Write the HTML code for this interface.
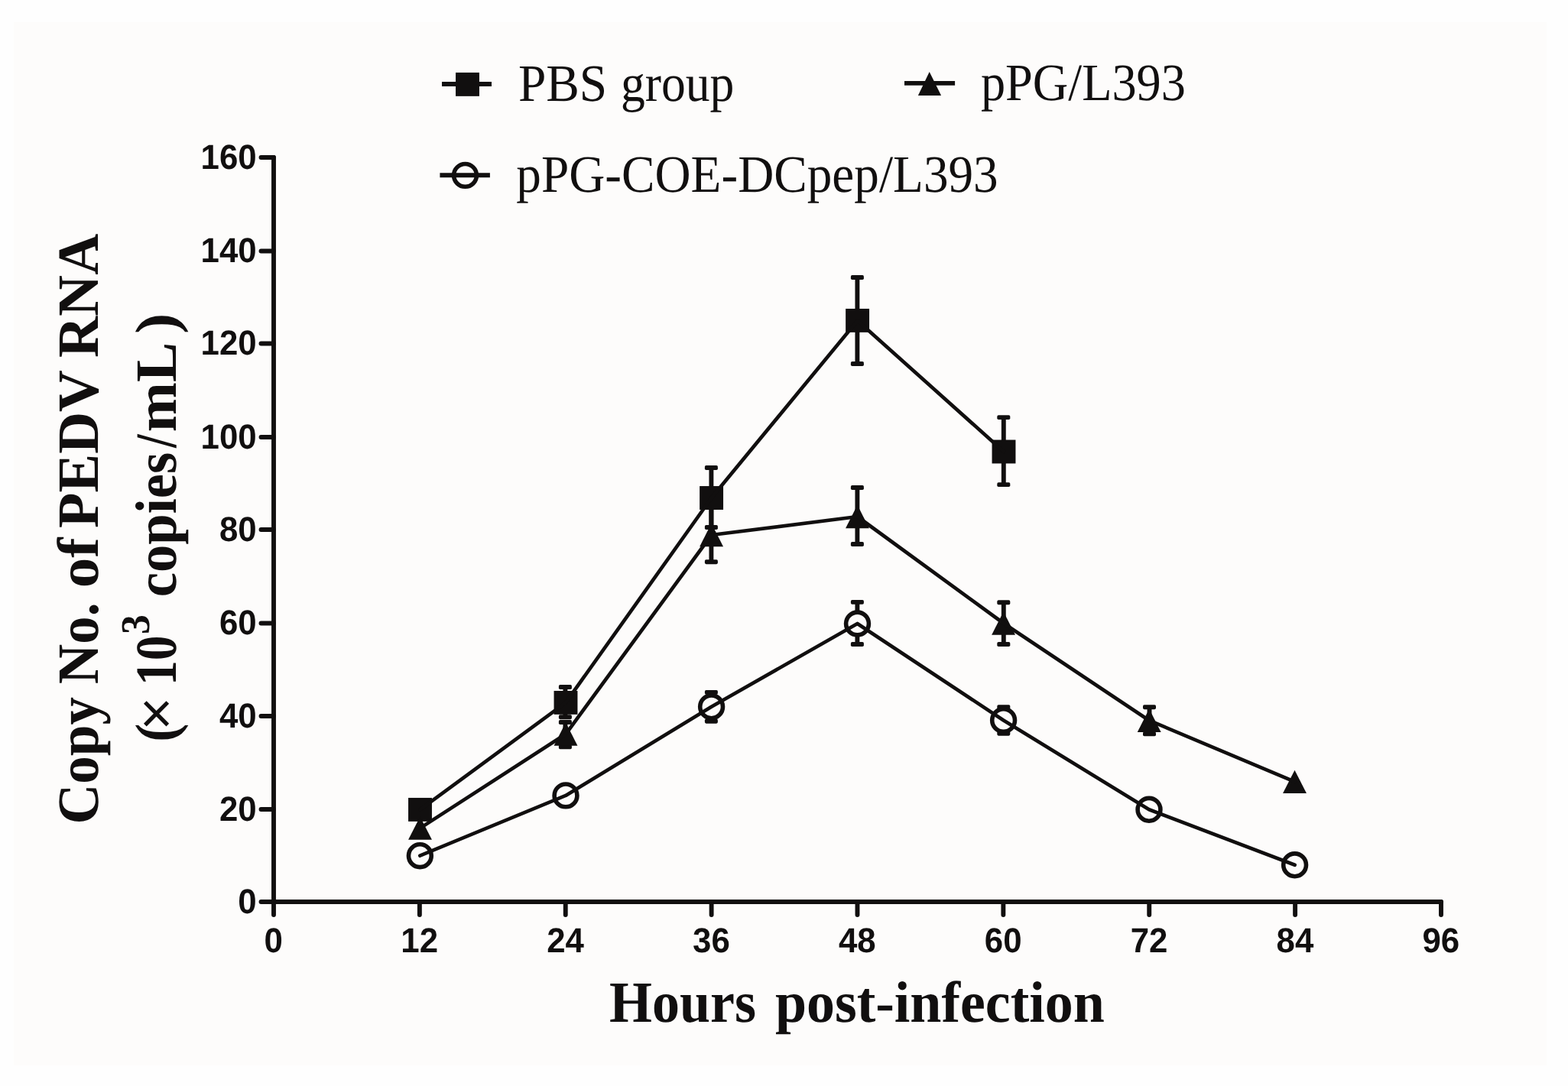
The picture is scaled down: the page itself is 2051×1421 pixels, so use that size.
<!DOCTYPE html>
<html lang="en"><head><meta charset="utf-8"><title>Copy No. of PEDV RNA</title>
<style>
html,body{margin:0;padding:0;background:#fefefe;}
body{width:2051px;height:1421px;overflow:hidden;}
svg{display:block;}
text{fill:#110f0f;white-space:pre;text-rendering:geometricPrecision;}
.sr{font-family:"Liberation Serif","Times New Roman",serif;font-weight:normal;}
.sb{font-family:"Liberation Serif","Times New Roman",serif;font-weight:bold;}
.nb{font-family:"Liberation Sans",Arial,sans-serif;font-weight:bold;}
</style></head><body>
<svg width="2051" height="1421" viewBox="0 0 2051 1421">
<rect x="0" y="0" width="2051" height="1421" fill="#fefefe"/>
<rect x="18" y="29" width="2005" height="1365" fill="#fdfcfb"/>
<g id="axes" fill="none" stroke="#110f0f" stroke-width="5.90" stroke-linecap="round" stroke-linejoin="round">
<path d="M358.00 206.00 V1180.00 H1885.00"/>
<path d="M341.50 1180.00 H358.00"/>
<path d="M341.50 1059.00 H358.00"/>
<path d="M341.50 937.00 H358.00"/>
<path d="M341.50 815.50 H358.00"/>
<path d="M341.50 693.00 H358.00"/>
<path d="M341.50 572.00 H358.00"/>
<path d="M341.50 449.50 H358.00"/>
<path d="M341.50 328.50 H358.00"/>
<path d="M341.50 206.00 H358.00"/>
<path d="M358.00 1180.00 V1197.00"/>
<path d="M548.87 1180.00 V1197.00"/>
<path d="M739.74 1180.00 V1197.00"/>
<path d="M930.62 1180.00 V1197.00"/>
<path d="M1121.49 1180.00 V1197.00"/>
<path d="M1312.36 1180.00 V1197.00"/>
<path d="M1503.23 1180.00 V1197.00"/>
<path d="M1694.10 1180.00 V1197.00"/>
<path d="M1884.98 1180.00 V1197.00"/>
</g>
<g id="errorbars" fill="#110f0f" stroke="none">
<path d="M739.40 899.00 V938.20" fill="none" stroke="#110f0f" stroke-width="5.90"/><rect x="730.90" y="896.05" width="17.00" height="5.90" rx="1.8"/><rect x="730.90" y="935.25" width="17.00" height="5.90" rx="1.8"/>
<path d="M930.40 612.00 V690.00" fill="none" stroke="#110f0f" stroke-width="5.90"/><rect x="921.90" y="609.05" width="17.00" height="5.90" rx="1.8"/><rect x="921.90" y="687.05" width="17.00" height="5.90" rx="1.8"/>
<path d="M1121.40 363.05 V476.00" fill="none" stroke="#110f0f" stroke-width="5.90"/><rect x="1112.90" y="360.10" width="17.00" height="5.90" rx="1.8"/><rect x="1112.90" y="473.05" width="17.00" height="5.90" rx="1.8"/>
<path d="M1312.80 546.10 V634.10" fill="none" stroke="#110f0f" stroke-width="5.90"/><rect x="1304.30" y="543.15" width="17.00" height="5.90" rx="1.8"/><rect x="1304.30" y="631.15" width="17.00" height="5.90" rx="1.8"/>
<path d="M739.40 945.00 V977.30" fill="none" stroke="#110f0f" stroke-width="5.90"/><rect x="730.90" y="942.05" width="17.00" height="5.90" rx="1.8"/><rect x="730.90" y="974.35" width="17.00" height="5.90" rx="1.8"/>
<path d="M930.40 663.50 V735.20" fill="none" stroke="#110f0f" stroke-width="5.90"/><rect x="921.90" y="660.55" width="17.00" height="5.90" rx="1.8"/><rect x="921.90" y="732.25" width="17.00" height="5.90" rx="1.8"/>
<path d="M1121.40 638.00 V712.00" fill="none" stroke="#110f0f" stroke-width="5.90"/><rect x="1112.90" y="635.05" width="17.00" height="5.90" rx="1.8"/><rect x="1112.90" y="709.05" width="17.00" height="5.90" rx="1.8"/>
<path d="M1312.80 788.30 V843.00" fill="none" stroke="#110f0f" stroke-width="5.90"/><rect x="1304.30" y="785.35" width="17.00" height="5.90" rx="1.8"/><rect x="1304.30" y="840.05" width="17.00" height="5.90" rx="1.8"/>
<path d="M1503.50 925.20 V960.40" fill="none" stroke="#110f0f" stroke-width="5.90"/><rect x="1495.00" y="922.25" width="17.00" height="5.90" rx="1.8"/><rect x="1495.00" y="957.45" width="17.00" height="5.90" rx="1.8"/>
<path d="M930.40 905.90 V943.70" fill="none" stroke="#110f0f" stroke-width="5.90"/><rect x="921.90" y="902.95" width="17.00" height="5.90" rx="1.8"/><rect x="921.90" y="940.75" width="17.00" height="5.90" rx="1.8"/>
<path d="M1121.40 787.90 V843.00" fill="none" stroke="#110f0f" stroke-width="5.90"/><rect x="1112.90" y="784.95" width="17.00" height="5.90" rx="1.8"/><rect x="1112.90" y="840.05" width="17.00" height="5.90" rx="1.8"/>
<path d="M1312.80 925.10 V959.70" fill="none" stroke="#110f0f" stroke-width="5.90"/><rect x="1304.30" y="922.15" width="17.00" height="5.90" rx="1.8"/><rect x="1304.30" y="956.75" width="17.00" height="5.90" rx="1.8"/>
</g>
<g id="markers" fill="#110f0f" stroke="none">
<rect x="534.05" y="1043.95" width="30.9" height="30.9"/>
<rect x="724.55" y="903.95" width="30.9" height="30.9"/>
<rect x="915.15" y="636.05" width="30.9" height="30.9"/>
<rect x="1106.15" y="403.95" width="30.9" height="30.9"/>
<rect x="1297.55" y="575.55" width="30.9" height="30.9"/>
<path d="M549.50 1068.45 L564.95 1098.85 L534.05 1098.85 Z"/>
<path d="M740.00 945.35 L755.45 975.75 L724.55 975.75 Z"/>
<path d="M930.60 684.80 L946.05 715.20 L915.15 715.20 Z"/>
<path d="M1121.50 660.80 L1136.95 691.20 L1106.05 691.20 Z"/>
<path d="M1312.60 800.30 L1328.05 830.70 L1297.15 830.70 Z"/>
<path d="M1503.20 927.50 L1518.65 957.90 L1487.75 957.90 Z"/>
<path d="M1693.50 1007.65 L1708.95 1038.05 L1678.05 1038.05 Z"/>
</g>
<g id="circles" fill="#fdfcfb" stroke="#110f0f" stroke-width="5.6">
<circle cx="549.35" cy="1119.70" r="14.9"/>
<circle cx="740.00" cy="1040.90" r="14.9"/>
<circle cx="930.60" cy="924.80" r="14.9"/>
<circle cx="1121.50" cy="816.00" r="14.9"/>
<circle cx="1312.60" cy="942.50" r="14.9"/>
<circle cx="1503.00" cy="1059.30" r="14.9"/>
<circle cx="1693.60" cy="1131.80" r="14.9"/>
</g>
<g id="lines" fill="none" stroke="#110f0f" stroke-width="4.70" stroke-linecap="round" stroke-linejoin="round">
<path d="M549.50 1059.40 L740.00 919.40 L930.60 651.50 L1121.60 419.40 L1313.00 591.00"/>
<path d="M549.50 1083.65 L740.00 960.55 L930.60 700.00 L1121.50 676.00 L1312.60 815.50 L1503.20 942.70 L1693.50 1022.85"/>
<path d="M549.35 1119.70 L740.00 1040.90 L930.60 924.80 L1121.50 816.00 L1312.60 942.50 L1503.00 1059.30 L1693.60 1131.80"/>
</g>
<g id="legend">
<g fill="none" stroke="#110f0f" stroke-width="5.9" stroke-linecap="butt">
<path d="M578 110 H643"/>
<path d="M1183 108.9 H1249.1"/>
<path d="M575.4 229.2 H640.9"/>
</g>
<rect x="596.05" y="94.95" width="30.9" height="30.9" fill="#110f0f"/>
<path d="M1215.7 93.9 L1231.1 124.95 L1200.9 124.95 Z" fill="#110f0f"/>
<circle cx="608.5" cy="229.4" r="14.9" fill="none" stroke="#110f0f" stroke-width="5.6"/>
</g>
<g id="labels">
<text class="sr" font-size="68.9" transform="translate(677.88 132.1)"><tspan x="0" y="0" textLength="116.19" lengthAdjust="spacingAndGlyphs">PBS</tspan> <tspan x="134.03" y="0" textLength="148.48" lengthAdjust="spacingAndGlyphs">group</tspan></text>
<text class="sr" font-size="68.9" transform="translate(1282.9 130.9)"><tspan x="0" y="0" textLength="268.01" lengthAdjust="spacingAndGlyphs">pPG/L393</tspan></text>
<text class="sr" font-size="68.9" transform="translate(675.28 250.9)"><tspan x="0" y="0" textLength="630.46" lengthAdjust="spacingAndGlyphs">pPG-COE-DCpep/L393</tspan></text>
<text class="sb" font-size="76.5" transform="translate(796.98 1337)"><tspan x="0" y="0" textLength="191.94" lengthAdjust="spacingAndGlyphs">Hours</tspan> <tspan x="216.92" y="0" textLength="430.89" lengthAdjust="spacingAndGlyphs">post-infection</tspan></text>
<text class="sb" font-size="76.5" transform="translate(128.1 1078.42) rotate(-90)"><tspan x="0" y="0" textLength="166.42" lengthAdjust="spacingAndGlyphs">Copy</tspan> <tspan x="183.09" y="0" textLength="107.11" lengthAdjust="spacingAndGlyphs">No.</tspan> <tspan x="309.05" y="0" textLength="65.92" lengthAdjust="spacingAndGlyphs">of</tspan> <tspan x="387.49" y="0" textLength="205.49" lengthAdjust="spacingAndGlyphs">PEDV</tspan> <tspan x="610.35" y="0" textLength="162.33" lengthAdjust="spacingAndGlyphs">RNA</tspan></text>
<text class="sb" font-size="76.5" transform="translate(229.7 970.77) rotate(-90)"><tspan x="0" y="0" textLength="24.15" lengthAdjust="spacingAndGlyphs">(</tspan><tspan x="15.17" y="0" textLength="43.31" lengthAdjust="spacingAndGlyphs" font-weight="normal" stroke="#110f0f" stroke-width="1.4">×</tspan> <tspan x="73.74" y="0" textLength="65.57" lengthAdjust="spacingAndGlyphs">10</tspan><tspan x="140.66" y="-34.7" textLength="25.71" lengthAdjust="spacingAndGlyphs" font-size="53.5">3</tspan> <tspan x="189.5" y="0" textLength="189.6" lengthAdjust="spacingAndGlyphs">copies</tspan><tspan x="384.75" y="0" textLength="17.51" lengthAdjust="spacingAndGlyphs">/</tspan><tspan x="405.49" y="0" textLength="113.04" lengthAdjust="spacingAndGlyphs">mL</tspan> <tspan x="533.94" y="0" textLength="26.95" lengthAdjust="spacingAndGlyphs">)</tspan></text>
<text class="nb" font-size="45.5" transform="translate(311.31 1194.6)"><tspan x="0" y="0" textLength="24.37" lengthAdjust="spacingAndGlyphs">0</tspan></text>
<text class="nb" font-size="45.5" transform="translate(286.94 1073.6)"><tspan x="0" y="0" textLength="48.74" lengthAdjust="spacingAndGlyphs">20</tspan></text>
<text class="nb" font-size="45.5" transform="translate(286.94 951.6)"><tspan x="0" y="0" textLength="48.74" lengthAdjust="spacingAndGlyphs">40</tspan></text>
<text class="nb" font-size="45.5" transform="translate(286.94 830.1)"><tspan x="0" y="0" textLength="48.74" lengthAdjust="spacingAndGlyphs">60</tspan></text>
<text class="nb" font-size="45.5" transform="translate(286.94 707.6)"><tspan x="0" y="0" textLength="48.74" lengthAdjust="spacingAndGlyphs">80</tspan></text>
<text class="nb" font-size="45.5" transform="translate(262.57 586.6)"><tspan x="0" y="0" textLength="73.11" lengthAdjust="spacingAndGlyphs">100</tspan></text>
<text class="nb" font-size="45.5" transform="translate(262.57 464.1)"><tspan x="0" y="0" textLength="73.11" lengthAdjust="spacingAndGlyphs">120</tspan></text>
<text class="nb" font-size="45.5" transform="translate(262.57 343.1)"><tspan x="0" y="0" textLength="73.11" lengthAdjust="spacingAndGlyphs">140</tspan></text>
<text class="nb" font-size="45.5" transform="translate(262.57 220.6)"><tspan x="0" y="0" textLength="73.11" lengthAdjust="spacingAndGlyphs">160</tspan></text>
<text class="nb" font-size="45.5" transform="translate(345.62 1246.3)"><tspan x="0" y="0" textLength="24.37" lengthAdjust="spacingAndGlyphs">0</tspan></text>
<text class="nb" font-size="45.5" transform="translate(524.3 1246.3)"><tspan x="0" y="0" textLength="48.74" lengthAdjust="spacingAndGlyphs">12</tspan></text>
<text class="nb" font-size="45.5" transform="translate(715.18 1246.3)"><tspan x="0" y="0" textLength="48.74" lengthAdjust="spacingAndGlyphs">24</tspan></text>
<text class="nb" font-size="45.5" transform="translate(906.05 1246.3)"><tspan x="0" y="0" textLength="48.74" lengthAdjust="spacingAndGlyphs">36</tspan></text>
<text class="nb" font-size="45.5" transform="translate(1096.92 1246.3)"><tspan x="0" y="0" textLength="48.74" lengthAdjust="spacingAndGlyphs">48</tspan></text>
<text class="nb" font-size="45.5" transform="translate(1287.79 1246.3)"><tspan x="0" y="0" textLength="48.74" lengthAdjust="spacingAndGlyphs">60</tspan></text>
<text class="nb" font-size="45.5" transform="translate(1478.66 1246.3)"><tspan x="0" y="0" textLength="48.74" lengthAdjust="spacingAndGlyphs">72</tspan></text>
<text class="nb" font-size="45.5" transform="translate(1669.54 1246.3)"><tspan x="0" y="0" textLength="48.74" lengthAdjust="spacingAndGlyphs">84</tspan></text>
<text class="nb" font-size="45.5" transform="translate(1860.41 1246.3)"><tspan x="0" y="0" textLength="48.74" lengthAdjust="spacingAndGlyphs">96</tspan></text>
</g>
</svg>
</body></html>
